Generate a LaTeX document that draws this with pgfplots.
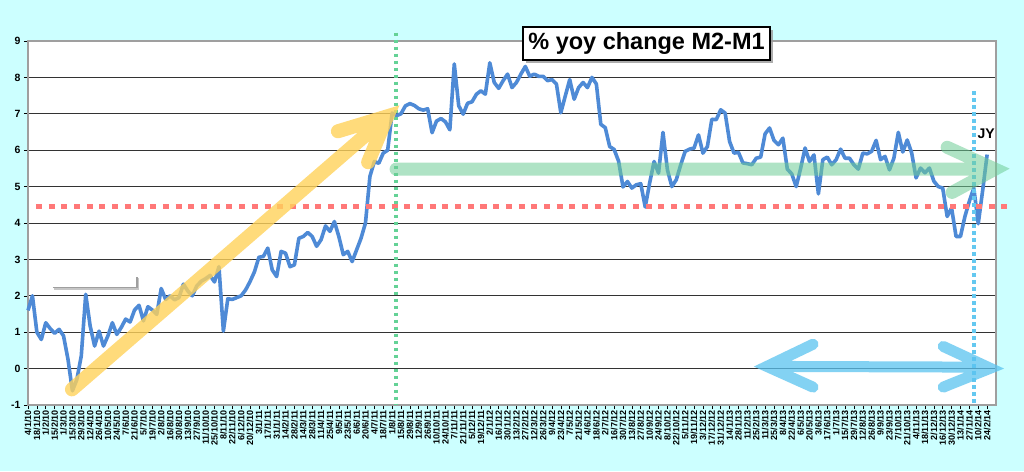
\documentclass[border=0pt]{standalone}
\usepackage{pgfplots}
\pgfplotsset{compat=1.18}
\usepackage{fontspec}
\setmainfont{Liberation Sans}
\usetikzlibrary{shadows}
\definecolor{bgc}{RGB}{204,255,255}
\definecolor{lc}{RGB}{78,138,214}
\definecolor{yel}{RGB}{255,210,90}
\definecolor{grn}{RGB}{110,205,150}
\definecolor{blu}{RGB}{90,195,240}
\definecolor{redd}{RGB}{255,120,120}
\definecolor{gdot}{RGB}{100,210,150}
\definecolor{bdot}{RGB}{100,200,240}
\begin{document}
\begin{tikzpicture}
\fill[bgc] (-28pt,-66pt) rectangle (996pt,405pt);
\begin{axis}[at={(0,0)}, anchor=south west, scale only axis,
  width=968pt, height=364pt,
  xmin=0, xmax=218, ymin=-1, ymax=9,
  xtick={0,2,...,216},
  xticklabels={4/1/10,18/1/10,1/2/10,15/2/10,1/3/10,15/3/10,29/3/10,12/4/10,26/4/10,10/5/10,24/5/10,7/6/10,21/6/10,5/7/10,19/7/10,2/8/10,16/8/10,30/8/10,13/9/10,27/9/10,11/10/10,25/10/10,8/11/10,22/11/10,6/12/10,20/12/10,
  3/1/11,17/1/11,31/1/11,14/2/11,28/2/11,14/3/11,28/3/11,11/4/11,25/4/11,9/5/11,23/5/11,6/6/11,20/6/11,4/7/11,18/7/11,1/8/11,15/8/11,29/8/11,12/9/11,26/9/11,10/10/11,24/10/11,7/11/11,21/11/11,5/12/11,19/12/11,
  2/1/12,16/1/12,30/1/12,13/2/12,27/2/12,12/3/12,26/3/12,9/4/12,23/4/12,7/5/12,21/5/12,4/6/12,18/6/12,2/7/12,16/7/12,30/7/12,13/8/12,27/8/12,10/9/12,24/9/12,8/10/12,22/10/12,5/11/12,19/11/12,3/12/12,17/12/12,31/12/12,
  14/1/13,28/1/13,11/2/13,25/2/13,11/3/13,25/3/13,8/4/13,22/4/13,6/5/13,20/5/13,3/6/13,17/6/13,1/7/13,15/7/13,29/7/13,12/8/13,26/8/13,9/9/13,23/9/13,7/10/13,21/10/13,4/11/13,18/11/13,2/12/13,16/12/13,30/12/13,
  13/1/14,27/1/14,10/2/14,24/2/14},
  ytick={-1,0,...,9},
  ymajorgrids, grid style={black!80, line width=0.7pt},
  axis background/.style={fill=white},
  axis line style={draw=gray!75, line width=1.5pt},
  tick align=outside, xtick pos=left, ytick pos=left,
  major tick length=4pt, tick style={black, line width=0.6pt},
  xticklabel style={rotate=90, anchor=east, font=\bfseries\fontsize{9}{9}\selectfont, inner sep=1pt},
  yticklabel style={font=\bfseries\fontsize{10.5}{10.5}\selectfont},
  /pgf/number format/assume math mode=true,
  clip=false]
\addplot[lc, line width=3.6pt, line join=round, no marks] coordinates {
(0,1.6)(1,2.0)(2,1.0)(3,0.8)(4,1.26)(5,1.1)(6,0.97)(7,1.08)(8,0.9)(9,0.26)
(10,-0.61)(11,-0.3)(12,0.35)(13,2.04)(14,1.17)(15,0.62)(16,1.03)(17,0.62)(18,0.9)(19,1.26)
(20,0.94)(21,1.13)(22,1.36)(23,1.28)(24,1.61)(25,1.74)(26,1.31)(27,1.7)(28,1.61)(29,1.49)
(30,2.2)(31,1.9)(32,2.0)(33,1.89)(34,1.95)(35,2.32)(36,2.13)(37,2.0)(38,2.27)(39,2.4)
(40,2.47)(41,2.56)(42,2.38)(43,2.8)(44,1.03)(45,1.92)(46,1.9)(47,1.95)(48,2.0)(49,2.16)
(50,2.39)(51,2.66)(52,3.06)(53,3.08)(54,3.31)(55,2.71)(56,2.53)(57,3.22)(58,3.17)(59,2.8)
(60,2.85)(61,3.58)(62,3.63)(63,3.74)(64,3.63)(65,3.36)(66,3.54)(67,3.92)(68,3.77)(69,4.04)
(70,3.63)(71,3.13)(72,3.22)(73,2.94)(74,3.26)(75,3.58)(76,4.0)(77,5.28)(78,5.69)(79,5.64)
(80,5.92)(81,6.0)(82,7.02)(83,6.95)(84,7.0)(85,7.22)(86,7.28)(87,7.23)(88,7.14)(89,7.1)
(90,7.14)(91,6.48)(92,6.8)(93,6.87)(94,6.78)(95,6.56)(96,8.37)(97,7.22)(98,6.99)(99,7.29)
(100,7.33)(101,7.54)(102,7.63)(103,7.54)(104,8.4)(105,7.86)(106,7.7)(107,7.91)(108,8.09)(109,7.72)
(110,7.86)(111,8.09)(112,8.3)(113,8.03)(114,8.09)(115,8.03)(116,8.03)(117,7.91)(118,7.94)(119,7.82)
(120,7.03)(121,7.49)(122,7.94)(123,7.4)(124,7.72)(125,7.86)(126,7.72)(127,8.0)(128,7.82)(129,6.71)
(130,6.62)(131,6.1)(132,6.02)(133,5.7)(134,4.99)(135,5.14)(136,4.96)(137,5.05)(138,5.08)(139,4.44)
(140,5.1)(141,5.69)(142,5.37)(143,6.49)(144,5.46)(145,5.0)(146,5.19)(147,5.6)(148,5.97)(149,6.03)
(150,6.06)(151,6.42)(152,5.92)(153,6.1)(154,6.85)(155,6.84)(156,7.11)(157,7.02)(158,6.24)(159,5.92)
(160,5.94)(161,5.65)(162,5.63)(163,5.6)(164,5.78)(165,5.81)(166,6.45)(167,6.61)(168,6.27)(169,6.15)
(170,6.33)(171,5.48)(172,5.35)(173,5.0)(174,5.5)(175,6.06)(176,5.69)(177,5.87)(178,4.8)(179,5.74)
(180,5.81)(181,5.6)(182,5.74)(183,6.03)(184,5.78)(185,5.78)(186,5.6)(187,5.48)(188,5.92)(189,5.9)
(190,5.97)(191,6.27)(192,5.74)(193,5.83)(194,5.46)(195,5.78)(196,6.49)(197,5.95)(198,6.28)(199,5.93)
(200,5.24)(201,5.51)(202,5.38)(203,5.51)(204,5.15)(205,5.0)(206,4.96)(207,4.18)(208,4.41)(209,3.63)
(210,3.63)(211,4.18)(212,4.6)(213,4.96)(214,3.98)(215,4.9)(216,5.88)
};
% reference lines
\draw[redd, line width=5pt, dash pattern=on 6pt off 6.7pt] (axis cs:1.8,4.44) -- (axis cs:220.7,4.44);
\draw[gdot, line width=3.5pt, dash pattern=on 3.5pt off 3.5pt] (axis cs:82.9,9.23) -- (axis cs:82.9,-1);
\draw[bdot, line width=4pt, dash pattern=on 3.5pt off 3.5pt] (axis cs:213.1,7.62) -- (axis cs:213.1,-1);
% yellow arrow
\draw[yel, opacity=0.8, line width=14pt, line cap=round, line join=miter]
  (axis cs:9.9,-0.57) -- (axis cs:79.3,6.76)
  (axis cs:69.8,6.52) -- (axis cs:80.9,6.93) -- (axis cs:76.6,5.67);
% green arrow
\draw[grn, opacity=0.55, line width=13pt, line cap=round, line join=miter]
  (axis cs:82.9,5.48) -- (axis cs:215.5,5.48)
  (axis cs:207,6.08) -- (axis cs:217.8,5.48) -- (axis cs:208.1,4.84);
% blue double arrow
\draw[blu, opacity=0.75, line width=11pt, line cap=round, line join=miter]
  (axis cs:167.5,0.06) -- (axis cs:215.5,0.04)
  (axis cs:176.8,0.67) -- (axis cs:166.4,0.06) -- (axis cs:176.8,-0.51)
  (axis cs:206.1,0.61) -- (axis cs:216.7,0.01) -- (axis cs:206.1,-0.51);
% grey callout remnant
\draw[gray!45, line width=2pt] (axis cs:5.9,2.18) -- (axis cs:24.8,2.18) -- (axis cs:24.8,2.48);
\draw[gray!75, line width=1.6pt] (axis cs:5.6,2.23) -- (axis cs:24.5,2.23) -- (axis cs:24.5,2.53);
% JY
\node[font=\bfseries\fontsize{14}{14}\selectfont] at (axis cs:215.8,6.44) {JY};
% title
\node[draw=black, line width=1.2pt, fill=white,
  drop shadow={shadow xshift=2.5pt, shadow yshift=-2.5pt, fill=gray!80, opacity=0.8},
  minimum width=247pt, minimum height=33pt, inner sep=0pt,
  font=\bfseries\fontsize{23.5}{24}\selectfont] at (axis cs:139.3,8.93) {\% yoy change M2-M1};
\end{axis}
\pgfresetboundingbox
\path (-28pt,-66pt) rectangle (996pt,405pt);
\end{tikzpicture}
\end{document}
